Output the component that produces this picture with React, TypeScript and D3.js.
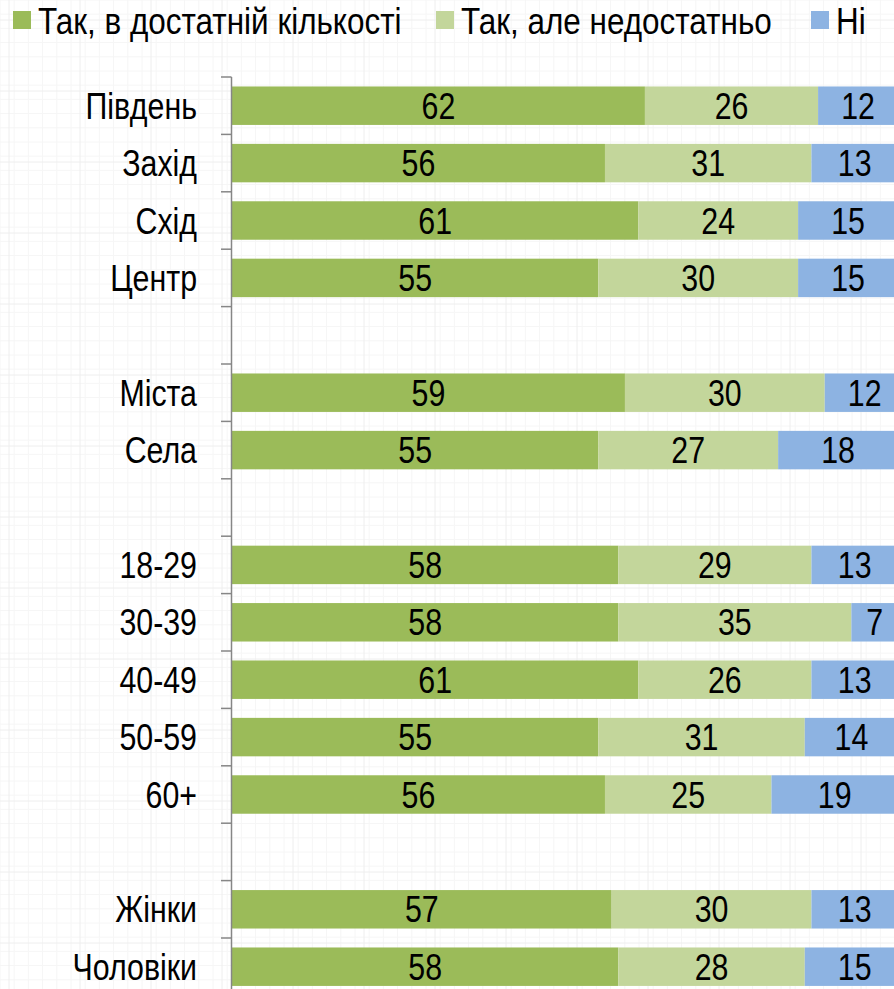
import React from "react";
import * as d3 from "d3";

const categories = ["Південь", "Захід", "Схід", "Центр", "", "Міста", "Села", "", "18-29", "30-39", "40-49", "50-59", "60+", "", "Жінки", "Чоловіки"];
const enough = [62, 56, 61, 55, null, 59, 55, null, 58, 58, 61, 55, 56, null, 57, 58];
const notEnough = [26, 31, 24, 30, null, 30, 27, null, 29, 35, 26, 31, 25, null, 30, 28];
const no = [12, 13, 15, 15, null, 12, 18, null, 13, 7, 13, 14, 19, null, 13, 15];
const seriesNames = ["Так, в достатній кількості", "Так, але недостатньо", "Ні"];
const colors = ["#9BBB59", "#C3D69B", "#8DB3E2"];

const W = 894, H = 989;
const FONT = "'Liberation Sans', Arial, sans-serif";
const FS = 37;
const SX = 0.82;

export default function App() {
  const idx = categories.map((_, i) => i);
  const y = d3.scaleBand<number>().domain(idx).range([77, 77 + 57.4 * 16]).paddingInner(0.33).paddingOuter(0.165);
  const x = d3.scaleLinear().domain([0, 100]).range([232, 898]);
  const series = [enough, notEnough, no];
  const step = y.step();

  const gridMinor = d3.range(0, W, 14.2);
  const gridMinorY = d3.range(0, H, 14.2);
  const gridMajor = d3.range(0, W, 71);
  const gridMajorY = d3.range(0, H, 71);

  const legendX = [13, 436, 811];

  return (
    <svg width={W} height={H} style={{ position: "absolute", left: 0, top: 0, background: "#fff" }} fontFamily={FONT}>
      <rect width={W} height={H} fill="#fff" />
      <g>
        {gridMinor.map((v, i) => <line key={"gv" + i} x1={v} x2={v} y1={0} y2={H} stroke="#f6f6f6" strokeWidth={1} />)}
        {gridMinorY.map((v, i) => <line key={"gh" + i} x1={0} x2={W} y1={v} y2={v} stroke="#f6f6f6" strokeWidth={1} />)}
        {gridMajor.map((v, i) => <line key={"Gv" + i} x1={v + 9} x2={v + 9} y1={0} y2={H} stroke="#eeeeee" strokeWidth={1} />)}
        {gridMajorY.map((v, i) => <line key={"Gh" + i} x1={0} x2={W} y1={v + 20} y2={v + 20} stroke="#eeeeee" strokeWidth={1} />)}
      </g>
      {/* legend */}
      {seriesNames.map((s, i) => (
        <g key={s}>
          <rect x={legendX[i]} y={11} width={18} height={18} fill={colors[i]} />
          <text transform={`translate(${legendX[i] + 25},34) scale(0.85,1)`} fontSize={FS} fill="#000">{s}</text>
        </g>
      ))}
      {/* bars */}
      {idx.map((i) => {
        if (enough[i] == null) return null;
        let acc = 0;
        return (
          <g key={i}>
            {series.map((arr, k) => {
              const v = arr[i] as number;
              const x0 = x(acc), x1 = x(acc + v);
              acc += v;
              const cy = (y(i) as number) + y.bandwidth() / 2;
              return (
                <g key={k}>
                  <rect x={x0} y={y(i)} width={x1 - x0} height={y.bandwidth()} fill={colors[k]} />
                  <text transform={`translate(${(x0 + x1) / 2},${cy + 13}) scale(${SX},1)`} fontSize={FS} textAnchor="middle" fill="#000">{v}</text>
                </g>
              );
            })}
          </g>
        );
      })}
      {/* axis */}
      <line x1={231.5} x2={231.5} y1={77} y2={H} stroke="#868686" strokeWidth={1.5} />
      {d3.range(0, 17).map((j) => (
        <line key={"t" + j} x1={221} x2={231.5} y1={77 + j * step} y2={77 + j * step} stroke="#868686" strokeWidth={1.5} />
      ))}
      {idx.map((i) => categories[i] ? (
        <text key={"l" + i} transform={`translate(197,${(y(i) as number) + y.bandwidth() / 2 + 13}) scale(${SX},1)`} fontSize={FS} textAnchor="end" fill="#000">{categories[i]}</text>
      ) : null)}
    </svg>
  );
}
